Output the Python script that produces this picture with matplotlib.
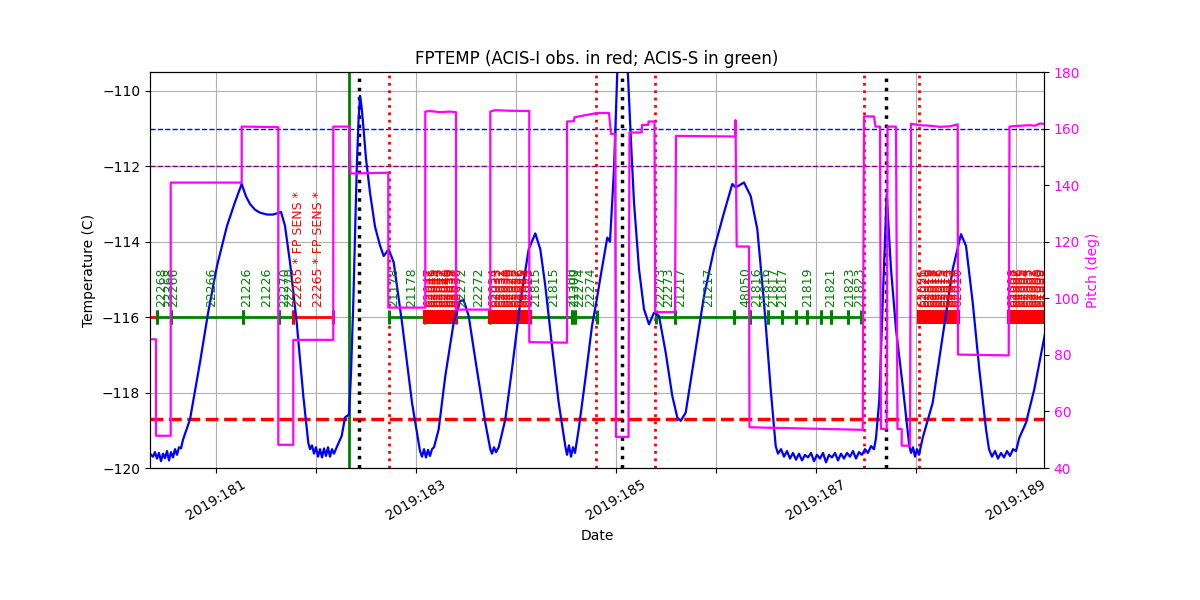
import numpy as np
import matplotlib
matplotlib.use('agg')
import matplotlib.pyplot as plt

# FPTEMP (deg C) vs day of year 2019
temp_time = [180.343, 180.373, 180.393, 180.413, 180.433, 180.453, 180.473, 180.493, 180.513, 180.533,
             180.553, 180.573, 180.593, 180.613, 180.633, 180.653, 180.673,
             180.743, 180.843, 180.923, 181.013, 181.113, 181.193, 181.26, 181.303, 181.343,
             181.393, 181.443, 181.513, 181.573, 181.623, 181.653, 181.693, 181.743, 181.81,
             181.876, 181.926,
             181.943, 181.963, 181.983, 182.003, 182.023, 182.043, 182.063, 182.083, 182.103,
             182.123, 182.143, 182.163, 182.183, 182.213, 182.26, 182.293, 182.333, 182.353,
             182.376, 182.41, 182.428, 182.443, 182.458, 182.476, 182.503, 182.543, 182.593,
             182.643, 182.68, 182.73, 182.78, 182.863, 182.963, 183.03,
             183.043, 183.063, 183.083, 183.103, 183.123, 183.143, 183.163, 183.183,
             183.23, 183.296, 183.38, 183.446, 183.48, 183.53, 183.596, 183.696,
             183.746, 183.763, 183.783, 183.803, 183.83,
             183.896, 183.963, 184.046, 184.13, 184.196, 184.246, 184.296, 184.363, 184.43,
             184.496, 184.513, 184.533, 184.553, 184.573, 184.593,
             184.63, 184.696, 184.763, 184.813, 184.85, 184.916, 184.943, 184.983, 185.016,
             185.043, 185.073, 185.103, 185.123, 185.15, 185.183, 185.233, 185.283, 185.333,
             185.383, 185.433, 185.5, 185.566, 185.616, 185.65, 185.7, 185.783, 185.883,
             185.983, 186.083, 186.166, 186.2, 186.283, 186.35, 186.416, 186.483, 186.55, 186.6,
             186.623, 186.653, 186.683, 186.713, 186.743, 186.773, 186.803, 186.833, 186.863,
             186.893, 186.923, 186.953, 186.983, 187.013, 187.043, 187.073, 187.103, 187.133,
             187.163, 187.193, 187.223, 187.253, 187.283, 187.313, 187.343, 187.373, 187.403,
             187.433, 187.463, 187.493, 187.523, 187.553, 187.583, 187.603,
             187.636, 187.67, 187.71, 187.753, 187.803, 187.87, 187.936,
             187.953, 187.973, 187.993, 188.013, 188.033,
             188.07, 188.17, 188.27, 188.37, 188.453, 188.503, 188.57, 188.636, 188.703,
             188.733, 188.763, 188.793, 188.823, 188.853, 188.883, 188.913, 188.943, 188.973,
             189.003, 189.036, 189.103, 189.186, 189.303]
temp_vals = [-119.62, -119.70, -119.58, -119.75, -119.60, -119.82, -119.62, -119.74, -119.55, -119.80,
             -119.58, -119.72, -119.50, -119.65, -119.45, -119.48, -119.25,
             -118.71, -117.20, -115.90, -114.64, -113.58, -112.95, -112.47, -112.80, -113.00,
             -113.15, -113.23, -113.28, -113.28, -113.24, -113.21, -113.58, -114.55, -116.14,
             -118.09, -119.33,
             -119.50, -119.40, -119.62, -119.45, -119.70, -119.50, -119.72, -119.48, -119.68,
             -119.45, -119.70, -119.50, -119.62, -119.43, -119.15, -118.66, -118.58, -117.50,
             -115.61, -112.08, -110.80, -110.13, -110.40, -110.93, -111.80, -112.70, -113.60,
             -114.10, -114.38, -114.20, -114.55, -116.14, -118.27, -119.33,
             -119.55, -119.70, -119.50, -119.72, -119.52, -119.68, -119.50, -119.45,
             -118.97, -117.56, -116.14, -115.57, -115.55, -115.97, -117.12, -118.80,
             -119.50, -119.62, -119.45, -119.58, -119.45,
             -118.71, -117.38, -115.60, -114.20, -113.78, -114.20, -115.17, -116.76, -118.27,
             -119.42, -119.65, -119.40, -119.70, -119.45, -119.60,
             -118.97, -117.65, -116.23, -115.50, -114.90, -113.89, -114.00, -112.08, -109.50,
             -108.60, -108.40, -108.90, -109.60, -111.19, -112.96, -114.73, -115.79, -116.19,
             -115.88, -115.97, -116.94, -118.09, -118.66, -118.75, -118.53, -117.12, -115.44,
             -114.20, -113.23, -112.47, -112.56, -112.43, -112.79, -113.67, -115.61, -117.91, -119.42,
             -119.62, -119.50, -119.70, -119.55, -119.75, -119.60, -119.78, -119.62, -119.80,
             -119.65, -119.72, -119.60, -119.82, -119.65, -119.75, -119.60, -119.85, -119.65,
             -119.72, -119.60, -119.80, -119.62, -119.75, -119.60, -119.70, -119.55, -119.75,
             -119.58, -119.65, -119.50, -119.60, -119.42, -119.50, -119.20,
             -118.20, -115.60, -112.74, -114.73, -116.32, -117.82, -119.42,
             -119.60, -119.45, -119.70, -119.50, -119.65,
             -119.20, -118.27, -116.50, -114.73, -113.80, -114.11, -115.61, -117.38, -118.97,
             -119.50, -119.70, -119.55, -119.75, -119.60, -119.72, -119.55, -119.68, -119.50,
             -119.55, -119.20, -118.80, -117.91, -116.30]

# pitch (deg)
pitch_time = [180.343, 180.403, 180.403, 180.55, 180.55, 181.26, 181.26, 181.626, 181.626, 181.776,
              181.776, 182.176, 182.176, 182.336, 182.348, 182.726, 182.726, 183.096, 183.096, 183.143,
              183.243, 183.343, 183.403, 183.403, 183.746, 183.746, 183.793, 183.943, 184.136, 184.136,
              184.513, 184.513, 184.583, 184.588, 184.813, 184.933, 184.953, 184.993, 185.003, 185.128,
              185.138, 185.26, 185.263, 185.326, 185.328, 185.388, 185.395, 185.593, 185.603, 186.193,
              186.198, 186.21, 186.333, 186.338, 187.47, 187.483, 187.583, 187.598, 187.643, 187.653,
              187.71, 187.718, 187.803, 187.818, 187.86, 187.86, 187.943, 187.953, 188.043, 188.143,
              188.243, 188.343, 188.42, 188.423, 188.93, 188.938, 189.043, 189.143, 189.193, 189.243,
              189.303]
pitch_vals = [85.5, 85.5, 51.4, 51.4, 140.9, 140.9, 160.7, 160.5, 48.2, 48.2,
              85.3, 85.3, 160.7, 160.7, 144.1, 144.4, 96.7, 96.7, 166.0, 166.2,
              165.8, 166.0, 165.8, 96.0, 96.0, 166.0, 166.5, 166.3, 166.2, 84.5,
              84.3, 162.5, 162.6, 164.0, 165.5, 165.5, 158.1, 158.1, 51.0, 51.0,
              158.6, 158.6, 161.3, 161.3, 162.5, 162.5, 95.1, 95.1, 157.4, 157.2,
              163.0, 118.3, 118.3, 54.4, 53.5, 164.3, 164.3, 160.7, 160.7, 53.8,
              53.8, 160.7, 160.7, 53.8, 53.8, 47.9, 47.9, 161.7, 161.2, 161.0,
              160.6, 160.8, 161.5, 80.1, 79.8, 160.7, 161.0, 161.2, 161.0, 161.8,
              161.6]

# science observations on the obsid bar (ACIS-I red, ACIS-S green)
obs_start = [180.20, 180.416, 180.55, 181.276, 181.636, 181.776,
             182.736, 183.403, 184.143, 184.563, 184.59,
             185.400, 185.593, 186.183, 186.34, 186.526, 186.666, 186.80, 186.916,
             187.053, 187.153, 187.32]
obs_stop = [180.416, 180.55, 181.276, 181.636, 181.776, 182.176,
            183.096, 183.746, 184.563, 184.59, 184.813,
            185.593, 186.183, 186.34, 186.526, 186.666, 186.80, 186.916, 187.053,
            187.153, 187.32, 187.453]
obs_inst = ['I', 'S', 'S', 'S', 'S', 'I',
            'S', 'S', 'S', 'S', 'S',
            'S', 'S', 'S', 'S', 'S', 'S', 'S', 'S',
            'S', 'S', 'S']

# obsid labels
label_time = [180.46, 180.526, 180.575, 180.96, 181.31, 181.51, 181.693, 181.743, 181.826, 182.026,
              182.78, 182.963, 183.463, 183.63, 184.196, 184.38, 184.563, 184.593, 184.643, 184.753,
              185.45, 185.533, 185.65, 185.933, 186.30, 186.406, 186.50, 186.583, 186.666,
              186.916, 187.153, 187.336, 187.436]
label_text = ['22268', '22268', '22266', '22266', '21226', '21226', '22270', '22270',
              '22265 * FP SENS *', '22265 * FP SENS *',
              '21178', '21178', '22272', '22272', '21815', '21815', '21300', '21300', '22274', '22274',
              '22273', '22273', '21217', '21217', '48050', '21816', '21816', '21817', '21817',
              '21819', '21821', '21823', '21823']
label_inst = ['S', 'S', 'S', 'S', 'S', 'S', 'S', 'S', 'I', 'I',
              'S', 'S', 'S', 'S', 'S', 'S', 'S', 'S', 'S', 'S',
              'S', 'S', 'S', 'S', 'S', 'S', 'S', 'S', 'S',
              'S', 'S', 'S', 'S']

# dense blocks of short ACIS-I (ER) observations
er_edges = [[183.096, 183.122, 183.148, 183.172, 183.198, 183.224, 183.250, 183.276, 183.300,
             183.326, 183.352, 183.378, 183.403],
            [183.746, 183.778, 183.810, 183.842, 183.874, 183.906, 183.938, 183.970, 184.002,
             184.034, 184.066, 184.098, 184.143],
            [188.036, 188.068, 188.100, 188.132, 188.164, 188.196, 188.228, 188.260, 188.292,
             188.324, 188.356, 188.388, 188.420],
            [188.930, 188.962, 188.994, 189.026, 189.058, 189.090, 189.122, 189.154, 189.186,
             189.218, 189.250, 189.282, 189.320]]
er_ids = [['62047', '62046', '62045', '62044', '62043', '62042', '62041', '62040', '62039',
           '62038', '62037', '62036', '62035'],
          ['62034', '62033', '62032', '62031', '62030', '62029', '62028', '62027', '62026',
           '62025', '62024', '62023', '62022'],
          ['62021', '62020', '62019', '62018', '62017', '62016', '62015', '62014', '62013',
           '62012', '62011', '62010', '62009'],
          ['62008', '62007', '62006', '62005', '62004', '62003', '62002', '62001', '62000',
           '61999', '61998', '61997', '61996']]

# events
radmon_time = [182.336]
comm_time = [182.436, 185.066, 187.703]
perigee_time = [182.736, 184.803, 185.393, 187.48, 188.036]

planning_limit = -111.0
yellow_limit = -112.0
acis_i_limit = -118.7

tick_days = [181, 182, 183, 184, 185, 186, 187, 188, 189]
tick_labels = ['2019:181', '', '2019:183', '', '2019:185', '', '2019:187', '', '2019:189']

obs_y = -116.0
inst_color = {'I': 'red', 'S': 'green'}

fig, ax1 = plt.subplots(figsize=(12, 6))
fig.subplots_adjust(left=0.125, right=0.87, top=0.88, bottom=0.22)

ax1.grid(True)
ax1.axhline(planning_limit, color='blue', linestyle='--', lw=1)
ax1.axhline(yellow_limit, color='purple', linestyle='--', lw=1)
ax1.axhline(acis_i_limit, color='red', linestyle='--', lw=2.5)

for t in radmon_time:
    ax1.axvline(t, color='green', lw=2)
for t in comm_time:
    ax1.axvline(t, color='black', linestyle=':', lw=2.5)
for t in perigee_time:
    ax1.axvline(t, color='red', linestyle=':', lw=2)

# obsid bar
for t0, t1, inst in zip(obs_start, obs_stop, obs_inst):
    c = inst_color[inst]
    ax1.plot([t0, t1], [obs_y, obs_y], color=c, lw=2)
    ax1.plot([t0, t1], [obs_y, obs_y], color=c, lw=0, marker='|', ms=10, mew=2.2)
for t, txt, inst in zip(label_time, label_text, label_inst):
    ax1.text(t, obs_y + 0.27, txt, color=inst_color[inst], rotation=90, fontsize=9,
             ha='center', va='bottom', clip_on=True)

for edges, ids in zip(er_edges, er_ids):
    ax1.plot([edges[0], edges[-1]], [obs_y, obs_y], color='red', lw=2)
    ax1.plot(edges, [obs_y] * len(edges), color='red', lw=0, marker='|', ms=10, mew=3)
    for t, oid in zip(edges[:-1], ids):
        ax1.text(t + 0.035, obs_y + 0.27, oid, color='red', rotation=90, fontsize=9,
                 ha='center', va='bottom', clip_on=True)

ax1.plot(temp_time, temp_vals, color='blue', lw=1.6)

ax1.set_xlim(180.343, 189.283)
ax1.set_ylim(-120, -109.5)
ax1.set_xticks(tick_days)
ax1.set_xticklabels(tick_labels, rotation=30, ha='center')
ax1.set_yticks(np.arange(-120, -109, 2))
ax1.set_xlabel('Date')
ax1.set_ylabel('Temperature (C)')
ax1.set_title('FPTEMP (ACIS-I obs. in red; ACIS-S in green)')

ax2 = ax1.twinx()
ax2.plot(pitch_time, pitch_vals, color='magenta', lw=1.6)
ax2.set_ylim(40, 180)
ax2.set_xlim(180.343, 189.283)
ax2.set_ylabel('Pitch (deg)', color='magenta')
ax2.tick_params(axis='y', labelcolor='magenta')

fig.savefig('out.png', dpi=100)
